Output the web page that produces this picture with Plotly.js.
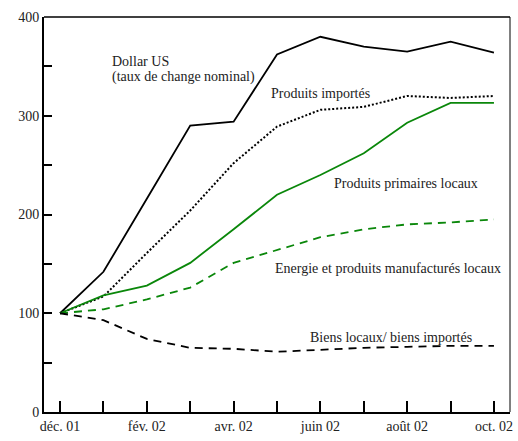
<!DOCTYPE html>
<html>
<head>
<meta charset="utf-8">
<script src="https://cdn.plot.ly/plotly-3.0.1.min.js"></script>
<style>html,body{margin:0;padding:0;background:#fff;}
#chart{position:absolute;left:0;top:0;width:518px;height:441px;}
#chart svg text{font-family:'Liberation Serif', 'DejaVu Serif', serif !important;}
#dbg{position:absolute;left:60px;top:370px;margin:0;font:10px 'Liberation Serif';color:rgba(255,255,255,0.01);background:rgba(255,255,255,0.01);white-space:pre;pointer-events:none;}</style>
</head>
<body>
<div id="chart"></div>
<pre id="dbg"></pre>
<script>
const months = ['déc. 01','janv. 02','fév. 02','mars 02','avr. 02','mai 02','juin 02','juil. 02','août 02','sept. 02','oct. 02'];
const tickLabels = ['déc. 01','','fév. 02','','avr. 02','','juin 02','','août 02','','oct. 02'];
const dollarUS = [100, 142, 216, 290, 294, 362, 380, 370, 365, 375, 364];
const produitsImportes = [100, 117, 161, 204, 252, 289, 306, 309, 320, 318, 320];
const primairesLocaux = [100, 118, 128, 151, 185, 220, 240, 262, 293, 313, 313];
const energieManuf = [100, 104, 114, 126, 151, 164, 177, 185, 190, 192, 195];
const biensLocauxImportes = [100, 93, 74, 65, 64, 61, 63, 65, 66, 67, 67];
const yTickVals = [0, 50, 100, 150, 200, 250, 300, 350, 400];
const yTickText = ['0', '', '100', '', '200', '', '300', '', '400'];

const FAM = 'Liberation Serif';
const green = '#0a870a';

const traces = [
  {x: months, y: dollarUS, mode: 'lines', line: {color: '#000', width: 1.8}},
  {x: months, y: produitsImportes, mode: 'lines', line: {color: '#000', width: 2, dash: '2px,2px'}},
  {x: months, y: primairesLocaux, mode: 'lines', line: {color: green, width: 1.8}},
  {x: months, y: energieManuf, mode: 'lines', line: {color: green, width: 1.8, dash: '8px,6px'}},
  {x: months, y: biensLocauxImportes, mode: 'lines', line: {color: '#000', width: 1.8, dash: '8px,6px'}}
];

const ann = (x, y, text) => ({xref: 'paper', yref: 'paper', x: x, y: y, text: text, showarrow: false,
  xanchor: 'left', yanchor: 'middle', align: 'left', font: {family: FAM, size: 14, color: '#222'}});
const px = v => (v - 44) / (510 - 44);
const py = v => (412 - v) / (412 - 17);

const layout = {
  width: 518, height: 441,
  margin: {l: 44, r: 8, t: 17, b: 29},
  paper_bgcolor: '#fff', plot_bgcolor: '#fff',
  showlegend: false,
  font: {family: FAM, size: 14, color: '#222'},
  xaxis: {
    type: 'category', categoryorder: 'array', categoryarray: months,
    range: [-0.37, 10.37],
    tickvals: months, ticktext: tickLabels,
    ticks: 'inside', ticklen: 11, tickwidth: 1.5, tickcolor: '#000',
    showline: true, linecolor: '#000', linewidth: 2,
    showgrid: false, zeroline: false,
    tickfont: {family: FAM, size: 14, color: '#222'}
  },
  yaxis: {
    range: [0, 400],
    tickvals: yTickVals, ticktext: yTickText,
    ticks: 'inside', ticklen: 8, tickwidth: 1.5, tickcolor: '#000',
    showline: true, linecolor: '#000', linewidth: 2,
    showgrid: false, zeroline: false,
    tickfont: {family: FAM, size: 14, color: '#222'}
  },
  shapes: [
    {type: 'line', xref: 'paper', yref: 'paper', x0: 0, x1: 1, y0: 1, y1: 1, line: {color: '#000', width: 1.5}},
    {type: 'line', xref: 'paper', yref: 'paper', x0: 1, x1: 1, y0: 0, y1: 1, line: {color: '#000', width: 1}}
  ],
  annotations: [
    ann(px(110), py(61), 'Dollar US'),
    ann(px(110), py(77), '(taux de change nominal)'),
    ann(px(269), py(93), 'Produits importés'),
    ann(px(332), py(183), 'Produits primaires locaux'),
    ann(px(273), py(268), 'Energie et produits manufacturés locaux'),
    ann(px(308), py(337), 'Biens locaux/ biens importés')
  ]
};

Plotly.newPlot('chart', traces, layout, {displayModeBar: false}).then(() => {
  document.getElementById('dbg').textContent = 'Liberation Serif\nok';
});
</script>
</body>
</html>
